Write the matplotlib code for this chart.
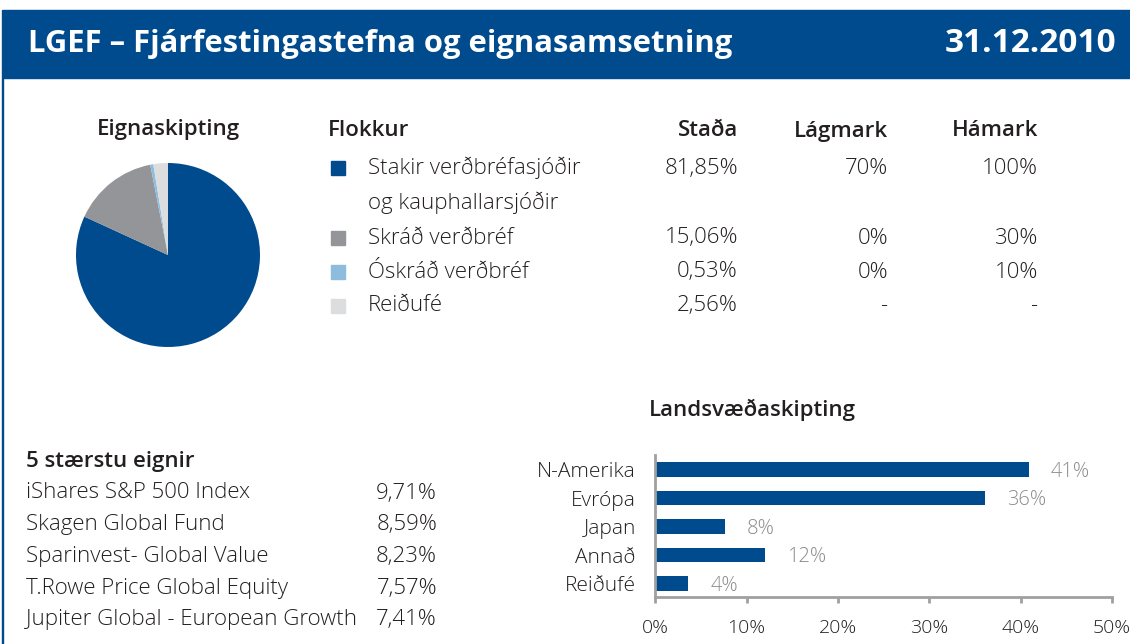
import matplotlib
matplotlib.use("Agg")
import matplotlib.pyplot as plt
import matplotlib.transforms as mtransforms
from matplotlib.patches import Rectangle

# ---- data ----
title = "LGEF – Fjárfestingastefna og eignasamsetning"
date_label = "31.12.2010"

asset_classes = ["Stakir verðbréfasjóðir\nog kauphallarsjóðir", "Skráð verðbréf",
                 "Óskráð verðbréf", "Reiðufé"]
asset_share = [81.85, 15.06, 0.53, 2.56]
asset_min = ["70%", "0%", "0%", "-"]
asset_max = ["100%", "30%", "10%", "-"]
asset_colors = ["#004b8d", "#939598", "#8ebcdd", "#dcddde"]

top_holdings = ["iShares S&P 500 Index", "Skagen Global Fund", "Sparinvest- Global Value",
                "T.Rowe Price Global Equity", "Jupiter Global - European Growth"]
top_weights = [9.71, 8.59, 8.23, 7.57, 7.41]

regions = ["N-Amerika", "Evrópa", "Japan", "Annað", "Reiðufé"]
region_share = [40.9, 36.1, 7.6, 12.0, 3.6]

W, H = 1130, 644
BLUE = "#004b8d"
TXT = "#231f20"
FONT = "Open Sans"

fig = plt.figure(figsize=(W / 100, H / 100), dpi=100)


def pct(v):
    return f"{v:.2f}".replace(".", ",") + "%"


def put(x, y, s, size=16, weight="light", ha="left", color=TXT, va="center"):
    fig.text(x / W, 1 - y / H, s, fontsize=size, fontweight=weight, ha=ha, va=va,
             color=color, family=FONT)


# header band and left rule
fig.patches.append(Rectangle((2 / W, 1 - 78 / H), 1 - 2 / W, 68 / H, transform=fig.transFigure,
                             color=BLUE, zorder=0))
fig.patches.append(Rectangle((2 / W, 0), 1.2 / W, 1 - 78 / H, transform=fig.transFigure,
                             color=BLUE, zorder=0))
put(28, 44, title, size=22.3, weight="bold", color="white")
put(1116, 44, date_label, size=24, weight="bold", color="white", ha="right")

# pie
ax_pie = fig.add_axes([(168 - 92) / W, 1 - (255 + 92) / H, 184 / W, 184 / H])
ax_pie.pie(asset_share, colors=asset_colors, startangle=90, counterclock=False,
           wedgeprops=dict(linewidth=0))
ax_pie.set_xlim(-1, 1)
ax_pie.set_ylim(-1, 1)
ax_pie.set_aspect("equal")
put(168, 130, "Eignaskipting", size=16, weight="semibold", ha="center")

# allocation table
put(328, 131, "Flokkur", size=16, weight="semibold")
put(738, 131, "Staða", size=16, weight="semibold", ha="right")
put(888, 131, "Lágmark", size=16, weight="semibold", ha="right")
put(1038, 131, "Hámark", size=16, weight="semibold", ha="right")
row_y = [168, 238, 272, 306]
for i, name in enumerate(asset_classes):
    y = row_y[i]
    fig.patches.append(Rectangle((331 / W, 1 - (y + 7) / H), 14 / W, 14 / H,
                                 transform=fig.transFigure, color=asset_colors[i]))
    lines = name.split("\n")
    for j, ln in enumerate(lines):
        put(368, y + 35 * j, ln)
    put(738, y, pct(asset_share[i]), ha="right")
    put(888, y, asset_min[i], ha="right")
    put(1038, y, asset_max[i], ha="right")

# top holdings
put(26, 462, "5 stærstu eignir", size=16, weight="semibold")
for i, (name, w) in enumerate(zip(top_holdings, top_weights)):
    y = 493 + 31.7 * i
    put(26, y, name)
    put(437, y, pct(w), ha="right")

# regional bar chart
ax = fig.add_axes([655.3 / W, 1 - 597 / H, (1112 - 655.3) / W, (597 - 455) / H])
ypos = list(range(len(regions)))
ax.barh(ypos, region_share, height=0.52, color=BLUE)
ax.set_ylim(4.47, -0.51)
ax.set_xlim(0, 50)
ax.set_xticks(range(0, 51, 10))
ax.set_xticklabels([f"{t}%" for t in range(0, 51, 10)], family=FONT, fontsize=14,
                   fontweight="light", color=TXT)
# keep the last tick label inside the figure
last = ax.get_xticklabels()[-1]
last.set_transform(last.get_transform() + mtransforms.Affine2D().translate(-4, 0))
ax.set_yticks(ypos)
ax.set_yticklabels(regions, family=FONT, fontsize=15, fontweight="light", color=TXT)
ax.tick_params(axis="y", length=0, pad=14)
ax.tick_params(axis="x", length=4, width=2, color="#a0a0a0", pad=12)
for s in ["top", "right"]:
    ax.spines[s].set_visible(False)
for s in ["left", "bottom"]:
    ax.spines[s].set_color("#a0a0a0")
    ax.spines[s].set_linewidth(2)
for y, v in zip(ypos, region_share):
    ax.annotate(f"{round(v)}%", (v, y), xytext=(22, -2), textcoords="offset pixels",
                ha="left", va="center", fontsize=14.5, color="#8c8c8c", family=FONT,
                fontweight="light")
ax.set_facecolor("none")
put(752, 410, "Landsvæðaskipting", size=16, weight="semibold", ha="center")

fig.savefig("out.png", dpi=100)
